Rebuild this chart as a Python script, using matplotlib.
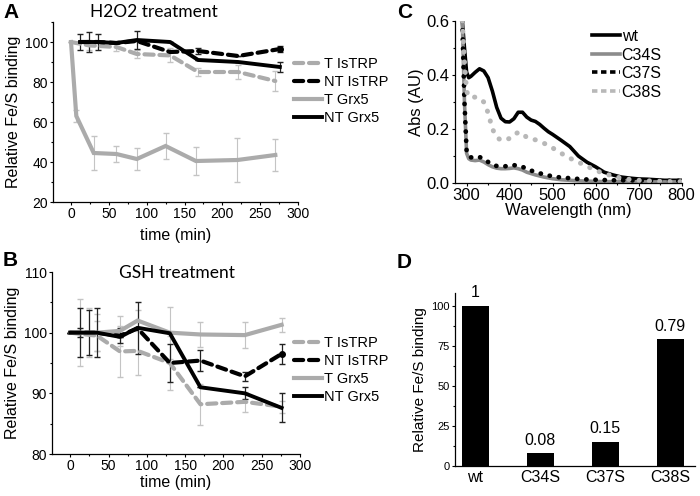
import matplotlib
matplotlib.use("Agg")
import matplotlib.pyplot as plt
from matplotlib.ticker import MultipleLocator
import numpy as np

plt.rcParams['font.family'] = ['Liberation Sans', 'DejaVu Sans']

# ---------------- Panel A data (H2O2 treatment) ----------------
A_T_IsTRP_t = [0, 24, 60, 87, 131, 168, 221, 270]
A_T_IsTRP_v = [100, 98.3, 97.5, 94, 93.3, 85, 85, 80.5]
A_T_IsTRP_e = [0, 2.5, 2, 2, 3.5, 2, 3.5, 5]

A_NT_IsTRP_t = [12, 24, 36, 60, 87, 131, 168, 221, 276]
A_NT_IsTRP_v = [100, 100, 100, 99.5, 100.5, 95, 95.5, 93, 96.5]
A_NT_IsTRP_e = [0, 0, 0, 0, 0, 0, 1.7, 0, 1.5]

A_T_Grx5_t = [0, 7, 30, 60, 87, 125, 165, 220, 270]
A_T_Grx5_v = [100, 63, 44.5, 44, 41.5, 48, 40.5, 41, 43.5]
A_T_Grx5_e = [0, 3, 8.5, 4, 5.5, 6.7, 7, 11, 8]

A_NT_Grx5_t = [12, 24, 36, 60, 87, 131, 168, 221, 276]
A_NT_Grx5_v = [100, 100, 100, 99.5, 101, 100, 91, 90, 87.5]
A_NT_Grx5_e = [3.8, 5, 3.8, 0, 4.7, 0, 0, 0, 2.5]

# ---------------- Panel B data (GSH treatment) ----------------
B_T_IsTRP_t = [0, 35, 65, 88, 130, 170, 228, 276]
B_T_IsTRP_v = [100, 99.5, 96.9, 97, 95, 88.2, 88.6, 87.8]
B_T_IsTRP_e = [0, 2.5, 4.2, 4, 4.5, 3.4, 1.6, 1]

B_NT_IsTRP_t = [0, 13, 24, 35, 65, 88, 130, 170, 228, 276]
B_NT_IsTRP_v = [100, 100, 100, 100, 99.5, 100.7, 95, 95.4, 92.8, 96.5]
B_NT_IsTRP_e = [0, 0.7, 0, 0, 1.2, 0, 3.2, 1.7, 0.7, 1.6]

B_T_Grx5_t = [0, 13, 24, 35, 65, 88, 130, 170, 228, 276]
B_T_Grx5_v = [100, 100, 100, 100, 100.3, 102, 100, 99.7, 99.6, 101.3]
B_T_Grx5_e = [0, 5.5, 4, 3, 2.5, 1.8, 4.3, 2, 2.2, 1.2]

B_NT_Grx5_t = [0, 13, 24, 35, 65, 88, 130, 170, 228, 276]
B_NT_Grx5_v = [100, 100, 100, 100, 99.3, 100.8, 99.9, 91, 90, 87.6]
B_NT_Grx5_e = [0, 4, 3.7, 4, 0, 4.3, 0, 0, 1, 2.4]

series_labels = ['T IsTRP', 'NT IsTRP', 'T Grx5', 'NT Grx5']

# ---------------- Panel C data (UV-vis spectra) ----------------
wl = [290, 295, 300, 305, 310, 320, 330, 340, 350, 360, 370, 380, 390, 400,
      410, 420, 430, 440, 450, 460, 470, 480, 490, 500, 520, 540, 560, 580,
      600, 620, 640, 660, 680, 700, 720, 740, 760, 780, 800]
abs_wt = [0.60, 0.50, 0.41, 0.39, 0.395, 0.41, 0.423, 0.415, 0.39, 0.34, 0.28,
          0.24, 0.227, 0.226, 0.238, 0.262, 0.262, 0.244, 0.233, 0.228, 0.217,
          0.203, 0.19, 0.18, 0.158, 0.135, 0.10, 0.077, 0.06, 0.04, 0.03, 0.022,
          0.018, 0.015, 0.014, 0.012, 0.01, 0.01, 0.01]
abs_C34S = [0.60, 0.30, 0.11, 0.09, 0.085, 0.083, 0.085, 0.078, 0.068, 0.06,
            0.055, 0.053, 0.053, 0.054, 0.056, 0.053, 0.048, 0.04, 0.035, 0.03,
            0.026, 0.022, 0.019, 0.016, 0.012, 0.01, 0.008, 0.007, 0.006, 0.005,
            0.005, 0.005, 0.004, 0.004, 0.004, 0.004, 0.004, 0.004, 0.004]
abs_C37S = [0.60, 0.30, 0.12, 0.10, 0.095, 0.093, 0.096, 0.09, 0.078, 0.068,
            0.063, 0.062, 0.062, 0.063, 0.066, 0.064, 0.06, 0.052, 0.046, 0.041,
            0.036, 0.032, 0.028, 0.025, 0.02, 0.018, 0.015, 0.013, 0.012, 0.011,
            0.01, 0.01, 0.01, 0.009, 0.009, 0.008, 0.008, 0.008, 0.008]
abs_C38S = [0.60, 0.45, 0.34, 0.32, 0.318, 0.318, 0.313, 0.30, 0.26, 0.20,
            0.17, 0.158, 0.16, 0.165, 0.18, 0.187, 0.185, 0.168, 0.163, 0.16,
            0.153, 0.147, 0.14, 0.13, 0.11, 0.092, 0.077, 0.062, 0.047, 0.035,
            0.026, 0.018, 0.013, 0.01, 0.008, 0.007, 0.006, 0.005, 0.005]

# ---------------- Panel D data ----------------
D_cats = ['wt', 'C34S', 'C37S', 'C38S']
D_vals = [100, 8, 15, 79]
D_labels = ['1', '0.08', '0.15', '0.79']

# ---------------- figure ----------------
W, H = 700, 496
fig = plt.figure(figsize=(7, 4.96), dpi=100)


def add_ax(left, right, top, bottom):
    return fig.add_axes([left / W, 1 - bottom / H, (right - left) / W, (bottom - top) / H])


def style(ax, fs):
    for s in ['top', 'right']:
        ax.spines[s].set_visible(False)
    for s in ['left', 'bottom']:
        ax.spines[s].set_linewidth(0.9)
    ax.tick_params(which='major', direction='out', length=2.5, width=0.8, labelsize=fs, pad=1.2)
    ax.tick_params(which='minor', direction='out', length=1.5, width=0.8)


LG = '#ababab'   # light gray lines
EG = '#c4c4c4'   # gray error bars
DASH = (0, (2.2, 1.4))


def timecourse(ax, data, ylim, yticks, yminor, title, title_xy, xlabelpad):
    (tt, tv, te), (nt, nv, ne), (gt, gv, ge), (kt, kv, ke) = data
    ax.errorbar(gt, gv, yerr=ge, fmt='none', ecolor=EG, elinewidth=0.8, capsize=2)
    ax.errorbar(tt, tv, yerr=te, fmt='none', ecolor=EG, elinewidth=0.8, capsize=2)
    ax.errorbar(nt, nv, yerr=ne, fmt='none', ecolor='#222222', elinewidth=0.9, capsize=2.2)
    ax.errorbar(kt, kv, yerr=ke, fmt='none', ecolor='#222222', elinewidth=0.9, capsize=2.2)
    l1, = ax.plot(tt, tv, color=LG, lw=3, ls=DASH, dash_capstyle='round', label=series_labels[0])
    l2, = ax.plot(nt, nv, color='black', lw=3, ls=DASH, dash_capstyle='round', label=series_labels[1])
    ax.plot(nt[-1:], nv[-1:], 'o', color='black', ms=4)
    l3, = ax.plot(gt, gv, color=LG, lw=3, solid_joinstyle='miter', label=series_labels[2])
    l4, = ax.plot(kt, kv, color='black', lw=2.8, label=series_labels[3])
    ax.set_xlim(-23.8, 300)
    ax.set_ylim(*ylim)
    ax.set_xticks([0, 50, 100, 150, 200, 250, 300])
    ax.set_yticks(yticks)
    ax.yaxis.set_minor_locator(MultipleLocator(yminor))
    ax.xaxis.set_minor_locator(MultipleLocator(25))
    style(ax, 10)
    ax.set_xlabel('time (min)', fontsize=11.5, labelpad=xlabelpad)
    ax.set_ylabel('Relative Fe/S binding', fontsize=11.5, labelpad=3)
    fig.text(title_xy[0] / W, 1 - title_xy[1] / H, title, fontsize=12.5,
             family=['Lato', 'DejaVu Sans'], ha='center', va='center')
    return [l1, l2, l3, l4]


# Panel A
axA = add_ax(53, 298, 22, 202)
hA = timecourse(axA,
                [(A_T_IsTRP_t, A_T_IsTRP_v, A_T_IsTRP_e),
                 (A_NT_IsTRP_t, A_NT_IsTRP_v, A_NT_IsTRP_e),
                 (A_T_Grx5_t, A_T_Grx5_v, A_T_Grx5_e),
                 (A_NT_Grx5_t, A_NT_Grx5_v, A_NT_Grx5_e)],
                (20, 110), [20, 40, 60, 80, 100], 10, 'H2O2 treatment', (154, 12), 5)
axA.legend(handles=hA, loc='upper left', bbox_to_anchor=(294 / W, 1 - 57 / H),
           bbox_transform=fig.transFigure, frameon=False, fontsize=10.5,
           handlelength=1.9, handletextpad=0.15, labelspacing=0.28,
           borderpad=0, borderaxespad=0)

# Panel B
axB = add_ax(52, 300, 272, 454)
hB = timecourse(axB,
                [(B_T_IsTRP_t, B_T_IsTRP_v, B_T_IsTRP_e),
                 (B_NT_IsTRP_t, B_NT_IsTRP_v, B_NT_IsTRP_e),
                 (B_T_Grx5_t, B_T_Grx5_v, B_T_Grx5_e),
                 (B_NT_Grx5_t, B_NT_Grx5_v, B_NT_Grx5_e)],
                (80, 110), [80, 90, 100, 110], 5, 'GSH treatment', (177, 273), 1)
axB.legend(handles=hB, loc='upper left', bbox_to_anchor=(294 / W, 1 - 336 / H),
           bbox_transform=fig.transFigure, frameon=False, fontsize=10.5,
           handlelength=1.9, handletextpad=0.15, labelspacing=0.28,
           borderpad=0, borderaxespad=0)

# Panel C
axC = add_ax(455, 682, 21, 183)
c1, = axC.plot(wl, abs_wt, color='black', lw=2.6, label='wt')
c2, = axC.plot(wl, abs_C34S, color='#8c8c8c', lw=2.6, label='C34S')
c3, = axC.plot(wl, abs_C37S, color='black', lw=3.4, ls=(0, (0.05, 1.9)),
               dash_capstyle='round', label='C37S')
c4, = axC.plot(wl, abs_C38S, color='#b8b8b8', lw=3.6, ls=(0, (0.05, 2.0)),
               dash_capstyle='round', label='C38S')
axC.set_xlim(273, 801)
axC.set_ylim(0, 0.6)
axC.set_xticks([300, 400, 500, 600, 700, 800])
axC.set_yticks([0.0, 0.2, 0.4, 0.6])
axC.set_yticklabels(['0.0', '0.2', '0.4', '0.6'])
axC.xaxis.set_minor_locator(MultipleLocator(50))
axC.yaxis.set_minor_locator(MultipleLocator(0.1))
style(axC, 12)
axC.set_xlabel('Wavelength (nm)', fontsize=12, labelpad=0)
axC.set_ylabel('Abs (AU)', fontsize=12, labelpad=2)
lh = [plt.Line2D([], [], color='black', lw=2.6),
      plt.Line2D([], [], color='#8c8c8c', lw=2.6),
      plt.Line2D([], [], color='black', lw=2.6, ls=(0, (1.5, 1.0))),
      plt.Line2D([], [], color='#b8b8b8', lw=2.6, ls=(0, (1.5, 1.0)))]
axC.legend(lh, ['wt', 'C34S', 'C37S', 'C38S'], loc='upper left',
           bbox_to_anchor=(592 / W, 1 - 29 / H), bbox_transform=fig.transFigure,
           frameon=False, fontsize=11.5, handlelength=1.75, handletextpad=0.1,
           labelspacing=0.22, borderpad=0, borderaxespad=0)

# Panel D
axD = add_ax(455, 695, 293, 466)
x = np.arange(len(D_cats))
bars = axD.bar(x, D_vals, width=0.42, color='black')
axD.bar_label(bars, labels=D_labels, padding=4, fontsize=11.5)
axD.set_xlim(-0.31, 3.38)
axD.set_ylim(0, 108)
axD.set_xticks(x)
axD.set_xticklabels(D_cats)
axD.set_yticks([0, 25, 50, 75, 100])
axD.yaxis.set_minor_locator(MultipleLocator(12.5))
style(axD, 8)
axD.tick_params(axis='x', which='both', length=0, labelsize=11.5, pad=3)
axD.set_ylabel('Relative Fe/S binding', fontsize=11, labelpad=3)

# Panel letters
for letter, (px, py) in zip('ABCD', [(3, 12), (3, 261), (397, 12), (397, 263)]):
    fig.text(px / W, 1 - py / H, letter, fontsize=15, fontweight='bold',
             ha='left', va='center')

fig.savefig('out.png', dpi=100)
